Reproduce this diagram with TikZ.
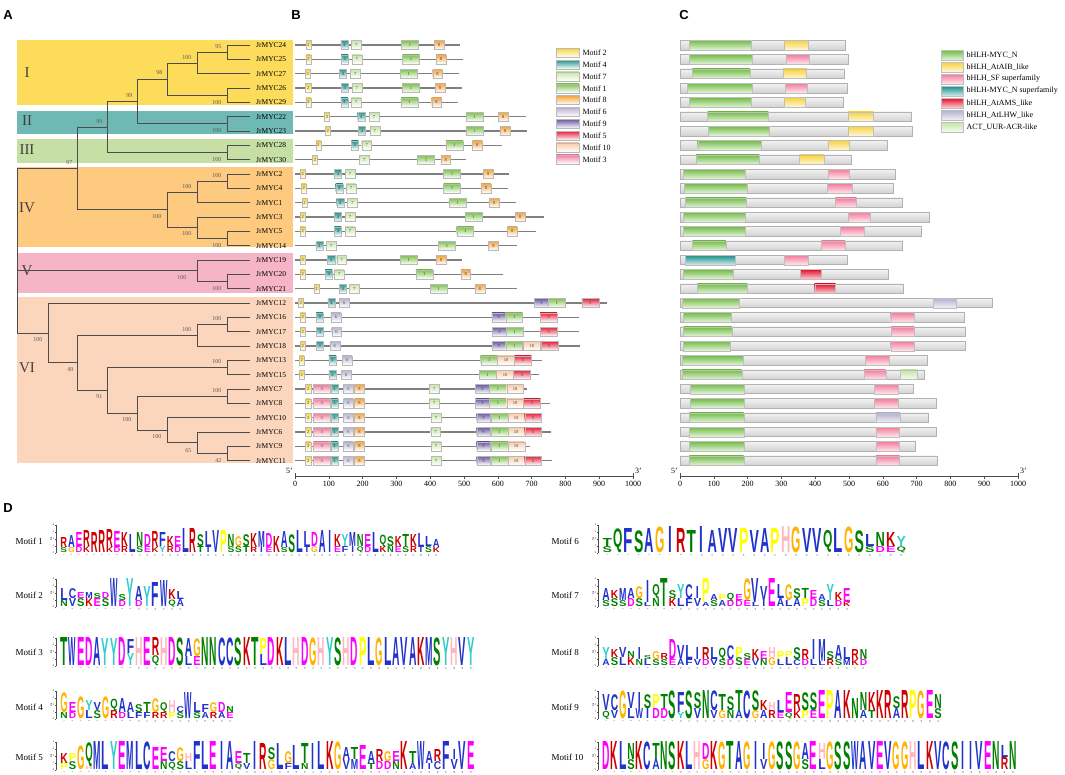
\documentclass[tikz,border=0pt]{standalone}
\usepackage{fontspec}
\setmainfont{Liberation Serif}
\setsansfont{Liberation Sans}
\usetikzlibrary{positioning}

% clade bands
\definecolor{cladeI}{HTML}{FDDC5C}
\definecolor{cladeII}{HTML}{6FB9B4}
\definecolor{cladeIII}{HTML}{C5DFA4}
\definecolor{cladeIV}{HTML}{FDCA7F}
\definecolor{cladeV}{HTML}{F6B5C7}
\definecolor{cladeVI}{HTML}{FBD6BC}
% motifs
\definecolor{mc1}{HTML}{7DC24B}
\definecolor{mc2}{HTML}{F7D53B}
\definecolor{mc3}{HTML}{F27A9C}
\definecolor{mc4}{HTML}{23958E}
\definecolor{mc5}{HTML}{E8203A}
\definecolor{mc6}{HTML}{B8B3D1}
\definecolor{mc7}{HTML}{C8E6A6}
\definecolor{mc8}{HTML}{F6A338}
\definecolor{mc9}{HTML}{6A58A3}
\definecolor{mc10}{HTML}{F9CBA8}
% domains
\definecolor{dN}{HTML}{72BC45}
\definecolor{dA}{HTML}{F8D33F}
\definecolor{dS}{HTML}{F37C9C}
\definecolor{dT}{HTML}{17908B}
\definecolor{dR}{HTML}{E60F2C}
\definecolor{dL}{HTML}{B5B0CF}
\definecolor{dU}{HTML}{C5E6A3}
% amino acid letters
\definecolor{aaA}{HTML}{2233CC}
\colorlet{aaC}{aaA}\colorlet{aaF}{aaA}\colorlet{aaI}{aaA}\colorlet{aaL}{aaA}
\colorlet{aaV}{aaA}\colorlet{aaW}{aaA}\colorlet{aaM}{aaA}
\definecolor{aaN}{HTML}{008000}
\colorlet{aaQ}{aaN}\colorlet{aaS}{aaN}\colorlet{aaT}{aaN}
\definecolor{aaD}{HTML}{FF00FF}
\colorlet{aaE}{aaD}
\definecolor{aaK}{HTML}{CC0000}
\colorlet{aaR}{aaK}
\definecolor{aaH}{HTML}{FFB6C1}
\definecolor{aaG}{HTML}{FFB300}
\definecolor{aaP}{HTML}{FFFF00}
\definecolor{aaY}{HTML}{33CCCC}

% letter, height, width
\newcommand{\aaglyph}[3]{\if I#1\pgfmathsetmacro{\iw}{0.4*#3}\resizebox*{\iw pt}{#2pt}{\sffamily\bfseries I}\else\resizebox*{#3pt}{#2pt}{\sffamily\bfseries #1}\fi}

% logo: name, x0, baseline, column width, columns letter/height/sub/subheight
\newcommand{\drawlogo}[5]{%
  \pgfmathsetmacro{\lw}{0.89*#4}
  \draw[logoaxis] (#2-4,#3) -- (#2-4,#3-28);
  \foreach \tk in {0,...,4} {
    \draw[logoaxis] (#2-4,#3-7*\tk) -- (#2-5.5,#3-7*\tk);
    \node[tinytext, anchor=east] (#1-y\tk) at (#2-5.5,#3-7*\tk) {\tk};
  }
  \node[tinytext, rotate=90] (#1-bits) at (#2-9,#3-14) {bits};
  \foreach \aaa/\hha/\bbb/\hhb [count=\i] in {#5} {
    \pgfmathsetmacro{\xx}{#2+(\i-0.5)*#4}
    \ifnum\hhb>0 \node[aa, text=aa\bbb] (#1-s\i) at (\xx,#3) {\aaglyph{\bbb}{\hhb}{\lw}}; \fi
    \node[aa, text=aa\aaa] (#1-\i) at (\xx,#3-\hhb) {\aaglyph{\aaa}{\hha}{\lw}};
    \node[colnum] (#1-n\i) at (\xx,#3+1.5) {\i};
  }
}

\begin{document}
\begin{tikzpicture}[x=1pt, y=-1pt,
  branch/.style={draw=black!70, line width=0.7pt},
  leaf/.style={font=\fontsize{7.5}{8}\selectfont, inner sep=0},
  boot/.style={font=\fontsize{6}{6}\selectfont, text=black!65, inner sep=0.5pt, anchor=east},
  clade/.style={font=\fontsize{15}{15}\selectfont, text=black!75},
  panel/.style={font=\sffamily\bfseries\fontsize{13}{13}\selectfont},
  protline/.style={draw=gray, line width=1.2pt},
  motifbox/.style={draw=gray!55, line width=0.3pt, top color=mc#1, bottom color=white,
    minimum height=9, inner sep=0, font=\fontsize{4.5}{4.5}\selectfont, text=black!75},
  protbar/.style={draw=gray!60, line width=0.4pt, top color=gray!10, bottom color=gray!35,
    minimum height=9.5, inner sep=0},
  dombox/.style={draw=gray!50, line width=0.3pt, top color=#1, bottom color=#1!20,
    minimum height=9.5, inner sep=0},
  legtext/.style={font=\fontsize{8}{9}\selectfont, inner sep=1pt},
  axisline/.style={draw=black!70, line width=0.5pt},
  ticklab/.style={font=\fontsize{8}{8}\selectfont, inner sep=1pt},
  mlabel/.style={font=\fontsize{9}{10}\selectfont, anchor=west},
  aa/.style={inner sep=0, anchor=south},
  tinytext/.style={font=\fontsize{2.5}{3}\selectfont, inner sep=0.3pt},
  colnum/.style={font=\fontsize{2}{2}\selectfont, inner sep=0, rotate=90, anchor=east},
  logoaxis/.style={draw=black!70, line width=0.25pt}]
\useasboundingbox (0,0) rectangle (1065,775);

% Panel letters
\node[panel] (pA) at (8,15) {A};
\node[panel] (pB) at (296,15) {B};
\node[panel] (pC) at (684,15) {C};
\node[panel] (pD) at (8,508) {D};

% Clade bands
\fill[cladeI] (17,40) rectangle (293,105);
\fill[cladeII] (17,111) rectangle (293,134);
\fill[cladeIII] (17,139) rectangle (293,163);
\fill[cladeIV] (17,167) rectangle (293,247);
\fill[cladeV] (17,253) rectangle (293,293);
\fill[cladeVI] (17,297) rectangle (293,463);
\node[clade] (cI) at (27,73) {I};
\node[clade] (cII) at (27,121) {II};
\node[clade] (cIII) at (27,150) {III};
\node[clade] (cIV) at (27,208) {IV};
\node[clade] (cV) at (27,271) {V};
\node[clade] (cVI) at (27,368) {VI};

% Leaves
\foreach \g [count=\rr from 0] in {24,25,27,26,29,22,23,28,30,2,4,1,3,5,14,19,20,21,12,16,17,18,13,15,7,8,10,6,9,11}
{\coordinate (L\g) at (250,45+14.33*\rr);
 \node[leaf, anchor=west] (t\g) at (256,45+14.33*\rr) {JrMYC\g};}

% Internal nodes
\coordinate (n2425) at (227,52.2);
\coordinate (n2427) at (197,62.9);
\coordinate (n2629) at (227,95.2);
\coordinate (nI) at (167,79.0);
\coordinate (n2223) at (227,123.8);
\coordinate (nII) at (137,101.4);
\coordinate (n2830) at (227,152.5);
\coordinate (nIII) at (107,126.9);
\coordinate (n24) at (227,181.2);
\coordinate (n241) at (197,191.9);
\coordinate (n514) at (227,238.5);
\coordinate (n3514) at (197,227.7);
\coordinate (nIV) at (167,209.8);
\coordinate (nTop) at (77,168.4);
\coordinate (n2021) at (227,281.5);
\coordinate (nV) at (197,270.7);
\coordinate (n1617) at (227,324.5);
\coordinate (n161718) at (197,335.2);
\coordinate (n1315) at (227,367.5);
\coordinate (n78) at (227,396.2);
\coordinate (n911) at (227,453.5);
\coordinate (n6911) at (197,442.7);
\coordinate (n10) at (167,430.2);
\coordinate (n7) at (137,413.2);
\coordinate (n13) at (107,390.3);
\coordinate (n16) at (77,362.8);
\coordinate (nVI) at (48,332.9);
\coordinate (root) at (17,250);

% Branches
\foreach \p/\c in {n2425/L24,n2425/L25,n2427/n2425,n2427/L27,n2629/L26,n2629/L29,
  nI/n2427,nI/n2629,n2223/L22,n2223/L23,nII/nI,nII/n2223,n2830/L28,n2830/L30,
  nIII/nII,nIII/n2830,n24/L2,n24/L4,n241/n24,n241/L1,n514/L5,n514/L14,n3514/L3,n3514/n514,
  nIV/n241,nIV/n3514,nTop/nIII,nTop/nIV,n2021/L20,n2021/L21,nV/L19,nV/n2021,
  n1617/L16,n1617/L17,n161718/n1617,n161718/L18,n1315/L13,n1315/L15,n78/L7,n78/L8,
  n911/L9,n911/L11,n6911/L6,n6911/n911,n10/L10,n10/n6911,n7/n78,n7/n10,n13/n1315,n13/n7,
  n16/n161718,n16/n13,nVI/L12,nVI/n16,root/nTop,root/nV,root/nVI}
{\draw[branch] (\p) |- (\c);}

% Bootstrap values
\foreach \bx/\by/\bv [count=\i] in {222/47/95,192/58/100,222/103/100,163/73/98,222/131/100,
  133/96/99,222/160/100,103/122/99,73/163/97,222/176/100,192/187/100,162/217/100,
  192/234/100,222/246/100,187/278/100,222/289/100,43/340/100,74/370/49,192/330/100,
  222/319/100,103/397/91,222/362/100,132/420/100,222/391/100,162/437/100,192/451/65,222/461/42}
{\node[boot] (bs\i) at (\bx,\by) {\bv};}

% B: motif structure
\foreach \g/\rr/\len/\mots in {
 24/0/488/{2/32,4/135,7/166,1/315,8/411},
 25/1/496/{2/32,4/136,7/168,1/318,8/417},
 27/2/486/{2/30,4/131,7/163,1/311,8/407},
 26/3/493/{2/31,4/136,7/168,1/318,8/414},
 29/4/483/{2/32,4/135,7/166,1/313,8/404},
 22/5/683/{2/87,4/185,7/219,1/505,8/601},
 23/6/685/{2/89,4/187,7/221,1/505,8/606},
 28/7/611/{2/61,4/166,7/197,1/446,8/524},
 30/8/506/{2/51,7/190,1/362,8/431},
 2/9/634/{2/15,4/116,7/148,1/439,8/557},
 4/10/631/{2/18,4/120,7/151,1/439,8/550},
 1/11/654/{2/20,4/123,7/155,1/456,8/574},
 3/12/737/{2/15,4/116,7/148,1/503,8/651},
 5/13/712/{2/15,4/116,7/148,1/478,8/628},
 14/14/656/{4/61,7/92,1/424,8/572},
 19/15/493/{2/15,4/96,7/123,1/311,8/417},
 20/16/614/{2/15,4/89,7/116,1/357,8/490},
 21/17/656/{2/56,4/131,7/160,1/399,8/532},
 12/18/924/{2/10,4/97,6/131,9/708,1/749,5/848},
 16/19/840/{2/15,4/62,6/106,9/582,1/623,5/725},
 17/20/841/{2/15,4/63,6/108,9/584,1/625,5/725},
 18/21/843/{2/15,4/62,6/103,9/582,1/623,10/675,5/727},
 13/22/730/{2/12,4/100,6/139,1/549,10/599,5/649},
 15/23/722/{2/12,4/100,6/137,1/545,10/596,5/646},
 7/24/687/{2/31,3/54,4/106,6/143,8/176,7/397,9/534,1/575,10/626},
 8/25/754/{2/31,3/54,4/106,6/143,8/176,7/397,9/534,1/575,10/626,5/676},
 10/26/732/{2/31,3/54,4/106,6/143,8/176,7/402,9/537,1/579,10/629,5/679},
 6/27/757/{2/31,3/54,4/106,6/143,8/176,7/401,9/537,1/579,10/629,5/679},
 9/28/695/{2/31,3/54,4/106,6/143,8/176,7/402,9/537,1/579,10/629},
 11/29/759/{2/31,3/54,4/106,6/143,8/176,7/402,9/537,1/579,10/629,5/679}}
{\pgfmathsetmacro{\yy}{45+14.33*\rr}
 \draw[protline] (295,\yy) -- ++(0.338*\len,0);
 \foreach \m/\s in \mots {
   \pgfmathsetmacro{\ww}{0.338*{50,15,50,21,50,29,29,29,41,50}[\m-1]}
   \node[motifbox=\m, minimum width=\ww, anchor=west] (B\g-\m) at (295+0.338*\s,\yy) {\m};
 }
}

% B: legend
\foreach \m [count=\kk from 0] in {2,4,7,1,8,6,9,5,10,3}
{\node[motifbox=\m, minimum width=23, anchor=west] (lgB\m) at (556,52.7+11.85*\kk) {};
 \node[legtext, right=2pt of lgB\m] (lgBt\m) {Motif \m};}

% B: axis
\draw[axisline] (295,476) -- (633,476);
\foreach \kk in {0,...,10}
{\draw[axisline] (295+33.8*\kk,476) -- ++(0,3);
 \node[ticklab, anchor=north] (bt\kk) at (295+33.8*\kk,480) {\the\numexpr\kk*100\relax};}
\draw[axisline] (295,473) -- (295,476);
\draw[axisline] (633,473) -- (633,476);
\node[ticklab, anchor=east] (b5) at (294,471) {5'};
\node[ticklab, anchor=west] (b3) at (634,471) {3'};

% C: conserved domains
\foreach \g/\rr/\len/\doms in {
 24/0/488/{dN/27/210,dA/309/378},
 25/1/498/{dN/27/212,dS/313/382},
 27/2/486/{dN/36/206,dA/304/374},
 26/3/493/{dN/22/212,dS/311/375},
 29/4/483/{dN/27/210,dA/308/371},
 22/5/682/{dN/81/261,dA/496/572},
 23/6/687/{dN/84/264,dA/496/572},
 28/7/611/{dN/52/240,dA/437/501},
 30/8/506/{dN/47/234,dA/353/427},
 2/9/636/{dN/10/192,dS/437/501},
 4/10/631/{dN/13/197,dS/435/508},
 1/11/656/{dN/16/195,dS/459/522},
 3/12/737/{dN/10/192,dS/498/562},
 5/13/712/{dN/10/192,dS/474/544},
 14/14/658/{dN/36/135,dS/418/488},
 19/15/493/{dT/16/164,dS/309/380},
 20/16/614/{dN/8/156,dR/355/417},
 21/17/659/{dN/51/198,dR/398/460},
 12/18/924/{dN/5/176,dL/749/818},
 16/19/840/{dN/10/152,dS/623/691},
 17/20/842/{dN/10/153,dS/624/693},
 18/21/843/{dN/10/149,dS/623/691},
 13/22/730/{dN/5/185,dS/548/619},
 15/23/722/{dN/5/182,dS/544/608,dU/652/702},
 7/24/688/{dN/29/188,dS/575/645},
 8/25/756/{dN/29/188,dS/575/645},
 10/26/733/{dN/27/188,dL/579/650},
 6/27/757/{dN/27/188,dS/579/648},
 9/28/696/{dN/27/188,dS/579/649},
 11/29/759/{dN/27/188,dS/579/649}}
{\pgfmathsetmacro{\yy}{45+14.33*\rr}
 \node[protbar, minimum width=0.338*\len, anchor=west] (C\g) at (680,\yy) {};
 \foreach \dd/\da/\db in \doms {
   \node[dombox=\dd, minimum width=0.338*(\db-\da), anchor=west] (C\g\dd) at (680+0.338*\da,\yy) {};
 }
}

% C: legend
\foreach \dd/\txt [count=\kk from 0] in {dN/bHLH-MYC\_N, dA/bHLH\_AtAIB\_like, dS/bHLH\_SF superfamily,
  dT/bHLH-MYC\_N superfamily, dR/bHLH\_AtAMS\_like, dL/bHLH\_AtLHW\_like, dU/ACT\_UUR-ACR-like}
{\node[dombox=\dd, minimum width=22, anchor=west] (lgC\kk) at (941,55+12*\kk) {};
 \node[legtext, right=2pt of lgC\kk] (lgCt\kk) {\txt};}

% C: axis
\draw[axisline] (680,476) -- (1018,476);
\foreach \kk in {0,...,10}
{\draw[axisline] (680+33.8*\kk,476) -- ++(0,3);
 \node[ticklab, anchor=north] (ct\kk) at (680+33.8*\kk,480) {\the\numexpr\kk*100\relax};}
\draw[axisline] (680,473) -- (680,476);
\draw[axisline] (1018,473) -- (1018,476);
\node[ticklab, anchor=east] (c5) at (679,471) {5'};
\node[ticklab, anchor=west] (c3) at (1019,471) {3'};

% D: motif logos
\node[mlabel] (ml1) at (12,541) {Motif 1};
\node[mlabel] (ml2) at (12,595) {Motif 2};
\node[mlabel] (ml3) at (12,652) {Motif 3};
\node[mlabel] (ml4) at (12,707) {Motif 4};
\node[mlabel] (ml5) at (12,757) {Motif 5};
\node[mlabel] (ml6) at (548,541) {Motif 6};
\node[mlabel] (ml7) at (548,595) {Motif 7};
\node[mlabel] (ml8) at (548,652) {Motif 8};
\node[mlabel] (ml9) at (548,707) {Motif 9};
\node[mlabel] (ml10) at (548,757) {Motif 10};

\drawlogo{lg1}{60}{553}{7.6}{R/10/S/5,A/12/G/5,E/14/D/6,R/16/K/6,R/20/-/0,R/22/-/0,R/18/K/5,E/16/D/5,K/14/R/6,L/18/-/0,N/14/S/6,D/12/E/6,R/16/K/5,F/14/Y/6,K/10/R/6,E/10/D/6,L/24/-/0,R/24/-/0,S/12/T/6,L/16/I/5,V/22/-/0,P/22/-/0,N/12/S/6,G/10/S/6,S/12/T/6,K/14/R/5,M/16/I/5,D/14/E/5,K/16/-/0,A/16/S/5,S/18/-/0,L/22/-/0,L/16/I/5,D/14/G/6,A/22/-/0,I/22/-/0,K/12/E/6,Y/12/F/6,M/14/I/6,N/12/Q/6,E/12/D/6,L/20/-/0,Q/12/K/6,S/10/N/6,K/10/E/6,T/12/S/6,K/12/R/6,L/14/I/5,L/10/S/6,A/8/K/5}
\drawlogo{lg2}{60}{607}{8.3}{L/12/N/6,C/10/V/8,E/6/S/8,M/6/K/8,S/5/E/8,D/6/S/8,W/28/-/0,S/6/D/6,Y/28/-/0,A/14/D/6,Y/20/-/0,F/24/-/0,W/26/-/0,K/10/Q/7,L/8/A/7}
\drawlogo{lg3}{60}{666}{8.3}{T/28/-/0,W/28/-/0,E/28/-/0,D/28/-/0,A/28/-/0,Y/27/-/0,Y/27/-/0,D/28/-/0,F/14/Y/12,H/28/-/0,E/28/-/0,R/18/Q/10,H/28/-/0,D/28/-/0,S/28/-/0,A/18/L/9,G/18/E/9,N/28/-/0,N/28/-/0,C/28/-/0,C/28/-/0,S/28/-/0,K/28/-/0,T/28/-/0,P/16/L/11,D/28/-/0,K/28/-/0,L/28/-/0,H/28/-/0,D/28/-/0,G/28/-/0,H/28/-/0,Y/28/-/0,S/28/-/0,H/28/-/0,D/28/-/0,P/28/-/0,L/28/-/0,G/28/-/0,L/28/-/0,A/28/-/0,V/28/-/0,A/28/-/0,K/28/-/0,M/28/-/0,S/28/-/0,Y/28/-/0,H/28/-/0,V/28/-/0,Y/28/-/0}
\drawlogo{lg4}{60}{719}{8.3}{G/20/N/6,E/10/D/6,G/22/-/0,Y/10/L/8,V/8/S/8,G/22/-/0,Q/12/R/8,A/14/D/6,A/10/L/6,S/8/F/6,T/10/F/6,G/14/R/6,Q/10/R/6,H/12/P/6,C/6/S/6,W/26/-/0,L/10/S/6,F/8/A/6,G/10/R/6,D/10/A/6,N/6/E/6}
\drawlogo{lg5}{60}{770}{8.3}{K/10/P/6,P/8/S/8,G/24/-/0,Q/24/H/3,M/28/-/0,L/28/-/0,Y/28/-/0,E/28/-/0,M/28/-/0,L/28/-/0,C/28/-/0,E/22/-/0,E/14/N/8,C/10/Q/8,G/14/S/8,H/8/L/8,F/28/-/0,L/28/-/0,E/28/-/0,I/28/-/0,A/28/-/0,E/12/Q/6,T/10/V/6,I/28/-/0,R/26/-/0,S/12/G/10,L/26/-/0,G/12/F/6,L/24/-/0,T/20/N/6,I/26/-/0,L/28/-/0,K/28/-/0,G/28/-/0,A/12/V/10,T/12/M/10,E/24/-/0,A/12/T/6,R/12/D/8,G/10/D/8,E/10/N/8,K/28/-/0,T/12/A/6,W/28/-/0,A/12/I/6,R/12/C/8,F/28/-/0,I/10/V/10,V/28/-/0,E/28/-/0}
\drawlogo{lg6}{602}{553}{10.5}{T/8/S/6,Q/24/-/0,F/24/-/0,S/22/-/0,A/24/-/0,G/26/-/0,I/26/-/0,R/24/-/0,T/22/-/0,I/26/-/0,A/22/-/0,V/24/-/0,V/24/-/0,P/24/-/0,V/22/-/0,A/24/-/0,P/24/-/0,H/26/-/0,G/26/-/0,V/24/-/0,V/24/-/0,Q/22/-/0,L/24/-/0,G/26/-/0,S/22/-/0,L/12/S/6,N/14/D/6,K/14/E/6,Y/10/Q/6}
\drawlogo{lg7}{602}{607}{8.3}{A/12/S/6,K/8/S/8,M/12/S/6,A/10/D/8,G/12/S/8,I/22/L/4,Q/14/N/8,T/28/-/0,S/8/K/8,Y/14/L/8,C/14/F/8,I/12/V/8,P/24/A/4,A/6/S/6,P/6/A/6,Q/8/D/6,E/6/D/6,G/22/E/6,V/24/L/4,V/14/I/6,E/28/-/0,L/14/A/8,G/16/L/6,S/10/A/8,T/10/P/8,E/8/D/8,A/6/S/6,Y/16/L/6,K/8/D/6,E/14/K/4}
\drawlogo{lg8}{602}{666}{8.3}{Y/12/A/6,K/8/S/8,V/10/L/8,N/6/K/8,I/12/N/6,S/4/L/6,G/8/S/6,R/6/S/6,D/20/E/6,V/14/A/6,L/14/F/6,I/12/V/6,R/12/D/6,L/12/V/6,Q/12/S/6,C/14/D/6,P/10/S/8,S/6/E/6,K/10/V/6,E/8/N/6,H/10/G/8,P/8/L/6,P/6/L/8,S/12/C/6,R/10/D/6,I/20/L/6,M/22/L/4,S/8/R/6,A/14/S/6,L/12/M/6,R/10/K/6,N/10/D/6}
\drawlogo{lg9}{602}{719}{8.3}{V/16/Q/8,C/16/V/8,G/28/-/0,V/16/L/10,I/16/W/10,S/14/I/10,P/14/D/10,T/14/D/10,S/28/-/0,F/20/Y/6,S/28/-/0,S/16/V/10,N/28/-/0,C/20/V/8,T/16/G/8,S/14/N/8,T/20/A/8,C/28/-/0,S/20/G/8,K/10/A/8,H/8/R/8,L/12/E/6,E/20/Q/6,R/16/K/8,S/18/P/8,S/18/E/8,E/28/-/0,P/28/-/0,A/28/-/0,K/28/-/0,N/20/-/0,N/18/A/8,K/18/T/8,K/28/-/0,R/28/-/0,S/12/A/10,R/28/-/0,P/28/-/0,G/28/-/0,E/28/-/0,N/14/S/10}
\drawlogo{lg10}{602}{770}{8.3}{D/28/-/0,K/28/-/0,L/28/-/0,N/16/S/10,K/28/-/0,C/28/-/0,T/16/A/10,N/28/-/0,S/28/-/0,K/28/-/0,L/28/-/0,H/28/-/0,D/16/G/10,K/28/-/0,G/28/-/0,T/28/-/0,A/28/-/0,G/28/-/0,I/28/-/0,I/16/V/10,G/28/-/0,S/28/-/0,S/28/-/0,G/28/-/0,A/16/S/10,E/28/-/0,H/16/L/10,G/28/-/0,S/28/-/0,S/28/-/0,W/28/-/0,A/28/-/0,V/28/-/0,E/28/-/0,V/28/-/0,G/28/-/0,G/28/-/0,H/28/-/0,L/28/-/0,K/28/-/0,V/28/-/0,C/28/-/0,S/28/-/0,I/28/-/0,I/28/-/0,V/28/-/0,E/28/-/0,N/28/-/0,L/12/R/12,N/28/-/0}
\end{tikzpicture}
\end{document}
